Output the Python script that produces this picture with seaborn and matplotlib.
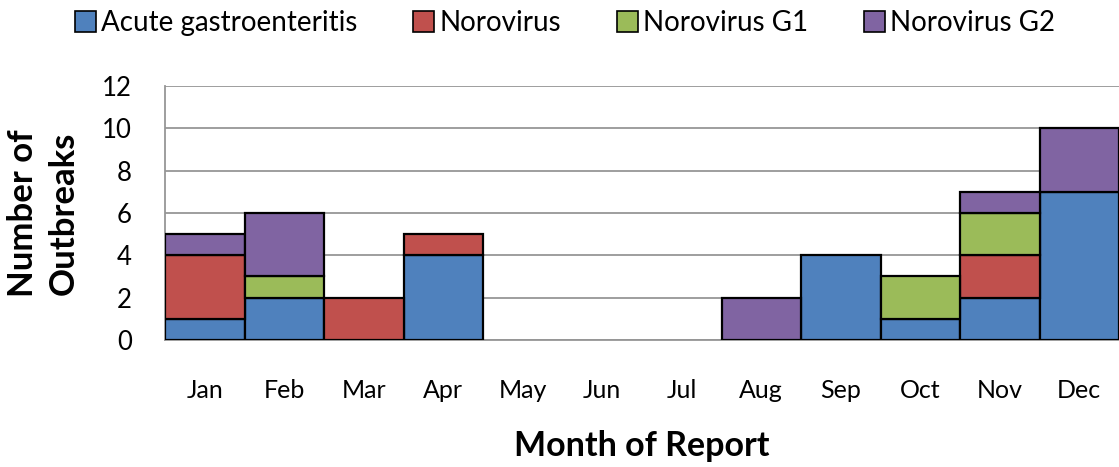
import matplotlib
matplotlib.use("Agg")
import matplotlib.pyplot as plt
from matplotlib.patches import Patch
import seaborn as sns
import pandas as pd
import numpy as np

months = ["Jan", "Feb", "Mar", "Apr", "May", "Jun", "Jul", "Aug", "Sep", "Oct", "Nov", "Dec"]
acute_gastro = [1, 2, 0, 4, 0, 0, 0, 0, 4, 1, 2, 7]
norovirus = [3, 0, 2, 1, 0, 0, 0, 0, 0, 0, 2, 0]
norovirus_g1 = [0, 1, 0, 0, 0, 0, 0, 0, 0, 2, 2, 0]
norovirus_g2 = [1, 3, 0, 0, 0, 0, 0, 2, 0, 0, 1, 3]
series_names = ["Acute gastroenteritis", "Norovirus", "Norovirus G1", "Norovirus G2"]
series_values = [acute_gastro, norovirus, norovirus_g1, norovirus_g2]
colors = ["#4F81BD", "#C0504D", "#9BBB59", "#8064A2"]
y_ticks = [0, 2, 4, 6, 8, 10, 12]

sns.set_theme(style="white")
plt.rcParams["font.family"] = ["Lato", "DejaVu Sans"]
plt.rcParams["text.color"] = "black"
plt.rcParams["axes.labelcolor"] = "black"
plt.rcParams["xtick.color"] = "black"
plt.rcParams["ytick.color"] = "black"

fig = plt.figure(figsize=(11.19, 4.67), dpi=100)
ax = fig.add_axes([0.1475, 0.272, 0.8525, 0.544])

bottom = np.zeros(len(months))
for name, vals, col in zip(series_names, series_values, colors):
    df = pd.DataFrame({"month": months, "value": vals, "bottom": bottom})
    df = df[df["value"] > 0]
    sns.barplot(data=df, x="month", y="value", order=months, color=col,
                width=1.0, bottom=df["bottom"].values, edgecolor="black",
                linewidth=1.6, saturation=1, ax=ax, zorder=3)
    bottom = bottom + np.array(vals)

ax.set_xlim(-0.5, 11.5)
ax.set_ylim(0, 12)
ax.set_yticks(y_ticks)
ax.yaxis.grid(True, color="#969696", linewidth=1.3, zorder=0)
ax.set_axisbelow(True)
for s in ["top", "right"]:
    ax.spines[s].set_visible(False)
for s in ["left", "bottom"]:
    ax.spines[s].set_color("#969696")
    ax.spines[s].set_linewidth(1.3)

ax.tick_params(axis="y", length=0, pad=24, labelsize=18.5, labelcolor="black")
ax.tick_params(axis="x", which="major", length=0, pad=28, labelsize=18, labelcolor="black")
ax.set_xticks(np.arange(-0.5, 12, 1), minor=True)
ax.tick_params(axis="x", which="minor", length=5, color="#969696", width=1.3)

ax.set_xlabel("Month of Report", fontsize=24.5, fontweight="bold", labelpad=20)
ax.set_ylabel("Number of\nOutbreaks", fontsize=25, fontweight="bold", labelpad=16,
              linespacing=1.35)

handles = [Patch(facecolor=c, edgecolor="black", linewidth=1.2) for c in colors]
fig.legend(handles, series_names, loc="center", bbox_to_anchor=(0.505, 0.95),
           ncol=4, frameon=False, fontsize=20, handlelength=0.75, handleheight=0.75,
           handletextpad=0.2, columnspacing=2.0)

fig.savefig("out.png", dpi=100)
